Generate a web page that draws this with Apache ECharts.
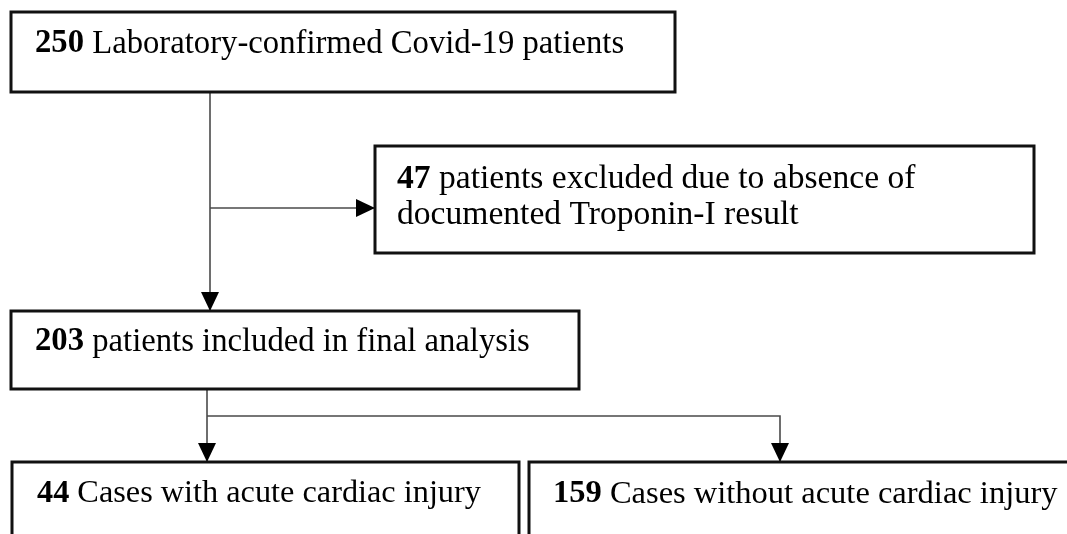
<!DOCTYPE html>
<html>
<head>
<meta charset="utf-8">
<script src="https://cdn.jsdelivr.net/npm/echarts@6/dist/echarts.min.js"></script>
<style>
  html, body { margin: 0; padding: 0; background: #fff; }
  #main { width: 1067px; height: 534px; }
</style>
</head>
<body>
<div id="main"></div>
<script>
// patient counts for each step of the flow
const counts = [250, 47, 203, 44, 159];
const captions = [
    'Laboratory-confirmed Covid-19 patients',
    'patients excluded due to absence of\ndocumented Troponin-I result',
    'patients included in final analysis',
    'Cases with acute cardiac injury',
    'Cases without acute cardiac injury'
];

// layout (figure pixel space, y down)
const boxes = [
    [11, 12, 675, 92],
    [375, 146, 1034, 253],
    [11, 311, 579, 389],
    [12, 462, 519, 580],
    [529, 462, 1090, 580]
];
const labelPos = [
    [35, 44],
    [397, 197],
    [35, 342],
    [37, 494],
    [553, 494]
];
const fontSizes = [32.7, 33.6, 32.7, 32.3, 32.5];
const links = [
    [[210, 92], [210, 311]],
    [[210, 208], [375, 208]],
    [[207, 389], [207, 462]],
    [[207, 416], [780, 416], [780, 462]]
];

const FONT = "'Liberation Serif', 'Times New Roman', serif";

let myChart = echarts.init(document.getElementById('main'));

function arrowHead(tip, prev, len, half) {
    let dx = tip[0] - prev[0], dy = tip[1] - prev[1];
    let d = Math.sqrt(dx * dx + dy * dy) || 1;
    dx /= d; dy /= d;
    let bx = tip[0] - dx * len, by = tip[1] - dy * len;
    return [tip, [bx - dy * half, by + dx * half], [bx + dy * half, by - dx * half]];
}

myChart.setOption({
    animation: false,
    grid: { left: 0, right: 0, top: 0, bottom: 0 },
    xAxis: { type: 'value', min: 0, max: 1067, show: false },
    yAxis: { type: 'value', min: 0, max: 534, inverse: true, show: false },
    series: [
        {
            type: 'custom',
            name: 'links',
            data: links.map((l, i) => [i]),
            z: 1,
            renderItem: (params, api) => {
                const pts = links[params.dataIndex].map(p => api.coord(p));
                const tip = pts[pts.length - 1];
                const prev = pts[pts.length - 2];
                return {
                    type: 'group',
                    children: [
                        {
                            type: 'polyline',
                            shape: { points: pts },
                            style: { stroke: '#4a4a4a', lineWidth: 1.6, fill: null }
                        },
                        {
                            type: 'polygon',
                            shape: { points: arrowHead(tip, prev, 19, 9) },
                            style: { fill: '#000' }
                        }
                    ]
                };
            }
        },
        {
            type: 'custom',
            name: 'boxes',
            data: boxes,
            z: 2,
            renderItem: (params, api) => {
                const i = params.dataIndex;
                const fs = fontSizes[i];
                const p0 = api.coord([api.value(0), api.value(1)]);
                const p1 = api.coord([api.value(2), api.value(3)]);
                const lp = api.coord(labelPos[i]);
                const lines = captions[i].split('\n');
                let text = '{b|' + counts[i] + '}{n| ' + lines[0] + '}';
                for (let k = 1; k < lines.length; k++) text += '\n{n|' + lines[k] + '}';
                return {
                    type: 'group',
                    children: [
                        {
                            type: 'rect',
                            shape: { x: p0[0], y: p0[1], width: p1[0] - p0[0], height: p1[1] - p0[1] },
                            style: { fill: '#fff', stroke: '#111', lineWidth: 3 }
                        },
                        {
                            type: 'text',
                            x: lp[0],
                            y: lp[1],
                            style: {
                                text: text,
                                align: 'left',
                                verticalAlign: 'middle',
                                fill: '#000',
                                fontFamily: FONT,
                                fontSize: fs,
                                rich: {
                                    b: { fontFamily: FONT, fontSize: fs, fontWeight: 'bold', fill: '#000', lineHeight: 36 },
                                    n: { fontFamily: FONT, fontSize: fs, fill: '#000', lineHeight: 36 }
                                }
                            }
                        }
                    ]
                };
            }
        }
    ]
});
</script>
</body>
</html>
